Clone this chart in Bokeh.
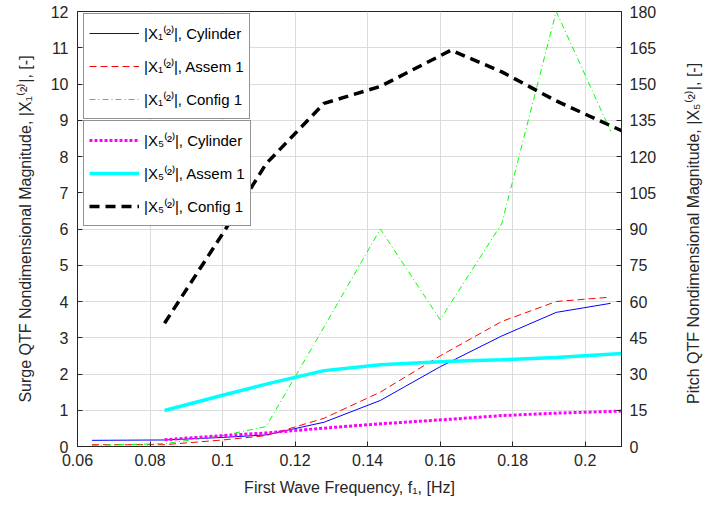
from bokeh.plotting import figure
from bokeh.models import Range1d, LinearAxis, FixedTicker, Legend, LegendItem, CustomJSTickFormatter, Div
from bokeh.layouts import row
from bokeh.embed import file_html
from bokeh.resources import INLINE

# ---------------- data ----------------
freq_x1 = [0.064, 0.084, 0.100, 0.112, 0.128, 0.1435, 0.160, 0.177, 0.192, 0.207]
x1_cylinder = [0.17, 0.18, 0.25, 0.32, 0.67, 1.27, 2.20, 3.05, 3.70, 3.95]
x1_assem1 = [0.05, 0.05, 0.18, 0.30, 0.78, 1.50, 2.50, 3.45, 4.00, 4.12]
x1_config1 = [0.03, 0.08, 0.30, 0.55, 3.30, 6.00, 3.50, 6.15, 12.00, 8.70]

freq_x5 = [0.084, 0.100, 0.112, 0.128, 0.1435, 0.163, 0.177, 0.192, 0.211]
x5_cylinder = [2.8, 4.5, 5.6, 7.6, 9.4, 11.3, 12.8, 13.8, 14.7]
x5_assem1 = [14.9, 21.2, 25.8, 31.4, 33.8, 35.3, 35.9, 36.8, 38.6]
x5_config1 = [51.0, 88.0, 117.0, 142.0, 149.0, 164.0, 155.0, 143.0, 130.0]

x_ticks = [0.06, 0.08, 0.10, 0.12, 0.14, 0.16, 0.18, 0.20]
y_left_ticks = list(range(0, 13))
y_right_ticks = list(range(0, 181, 15))

x_label = "First Wave Frequency, f\u2081, [Hz]"
y_left_label = "Surge QTF Nondimensional Magnitude, |X\u2081\u207d\u00b2\u207e|, [-]"
y_right_label = "Pitch QTF Nondimensional Magnitude, |X\u2085\u207d\u00b2\u207e|, [-]"

FONT = "Liberation Sans"
DARK = "#262626"

p = figure(width=674, height=506, x_range=Range1d(0.06, 0.21), y_range=Range1d(0, 12),
           output_backend="svg", toolbar_location=None,
           min_border_left=77, min_border_right=53, min_border_top=11, min_border_bottom=60)
p.extra_y_ranges = {"right": Range1d(0, 180)}

p.outline_line_color = DARK
p.outline_line_width = 1
p.background_fill_color = "white"
p.border_fill_color = "white"

def style_axis(ax):
    ax.axis_line_color = DARK
    ax.major_tick_line_color = DARK
    ax.major_tick_in = 5
    ax.major_tick_out = 0
    ax.minor_tick_in = 0
    ax.minor_tick_out = 0
    ax.major_label_text_font = FONT
    ax.major_label_text_font_size = "16px"
    ax.major_label_text_color = DARK
    ax.axis_label_text_font = FONT
    ax.axis_label_text_font_size = "16px"
    ax.axis_label_text_font_style = "normal"
    ax.axis_label_text_color = DARK

xa = p.xaxis[0]
xa.ticker = FixedTicker(ticks=x_ticks)
xa.formatter = CustomJSTickFormatter(code="return tick.toFixed(2).replace(/0$/, '');")
xa.axis_label = x_label
style_axis(xa)
xa.major_label_standoff = 7
xa.axis_label_standoff = 10

ya = p.yaxis[0]
ya.ticker = FixedTicker(ticks=y_left_ticks)
ya.axis_label = y_left_label
style_axis(ya)
ya.major_label_standoff = 9
ya.axis_label_standoff = 14

ra = LinearAxis(y_range_name="right", ticker=FixedTicker(ticks=y_right_ticks))
style_axis(ra)
ra.major_label_standoff = 8
p.add_layout(ra, "right")

p.xgrid.ticker = FixedTicker(ticks=x_ticks)
p.ygrid.ticker = FixedTicker(ticks=y_left_ticks)
for g in (p.xgrid[0], p.ygrid[0]):
    g.grid_line_color = "#dcdcdc"
    g.grid_line_width = 1

r1 = p.line(freq_x1, x1_cylinder, line_color="#0000ff", line_width=1)
r2 = p.line(freq_x1, x1_assem1, line_color="#ff0000", line_width=1, line_dash="7 4")
r3 = p.line(freq_x1, x1_config1, line_color="#00ff00", line_width=1, line_dash="6 3 1 3")
r4 = p.line(freq_x5, x5_cylinder, line_color="#ff00ff", line_width=3, line_dash="3 2",
            y_range_name="right")
r5 = p.line(freq_x5, x5_assem1, line_color="#00ffff", line_width=3.5, y_range_name="right")
r6 = p.line(freq_x5, x5_config1, line_color="#000000", line_width=3.5, line_dash="10 6",
            y_range_name="right")

def make_legend(items, loc):
    leg = Legend(items=items, location=loc)
    leg.label_text_font = FONT
    leg.label_text_font_size = "15px"
    leg.label_text_color = "#000000"
    leg.glyph_width = 50
    leg.glyph_height = 28
    leg.label_height = 28
    leg.spacing = 5
    leg.padding = 5
    leg.margin = 0
    leg.label_standoff = 5
    leg.border_line_color = DARK
    leg.border_line_width = 1
    leg.background_fill_color = "white"
    leg.background_fill_alpha = 1
    return leg

leg1 = make_legend([
    LegendItem(label="|X\u2081\u207d\u00b2\u207e|, Cylinder", renderers=[r1]),
    LegendItem(label="|X\u2081\u207d\u00b2\u207e|, Assem 1", renderers=[r2]),
    LegendItem(label="|X\u2081\u207d\u00b2\u207e|, Config 1", renderers=[r3]),
], (6, 327))
leg2 = make_legend([
    LegendItem(label="|X\u2085\u207d\u00b2\u207e|, Cylinder", renderers=[r4]),
    LegendItem(label="|X\u2085\u207d\u00b2\u207e|, Assem 1", renderers=[r5]),
    LegendItem(label="|X\u2085\u207d\u00b2\u207e|, Config 1", renderers=[r6]),
], (6, 220))
p.add_layout(leg1, "center")
p.add_layout(leg2, "center")

# right-hand axis title, reading bottom-to-top as in the reference
right_title = Div(text=y_right_label, width=30, height=456,
                  styles={"writing-mode": "vertical-rl", "transform": "rotate(180deg)",
                          "text-align": "center", "line-height": "30px",
                          "font-family": FONT, "font-size": "16px", "color": DARK,
                          "white-space": "nowrap", "background": "white"})

layout = row(p, right_title, spacing=0)

open("out.html", "w").write(file_html(layout, INLINE))
